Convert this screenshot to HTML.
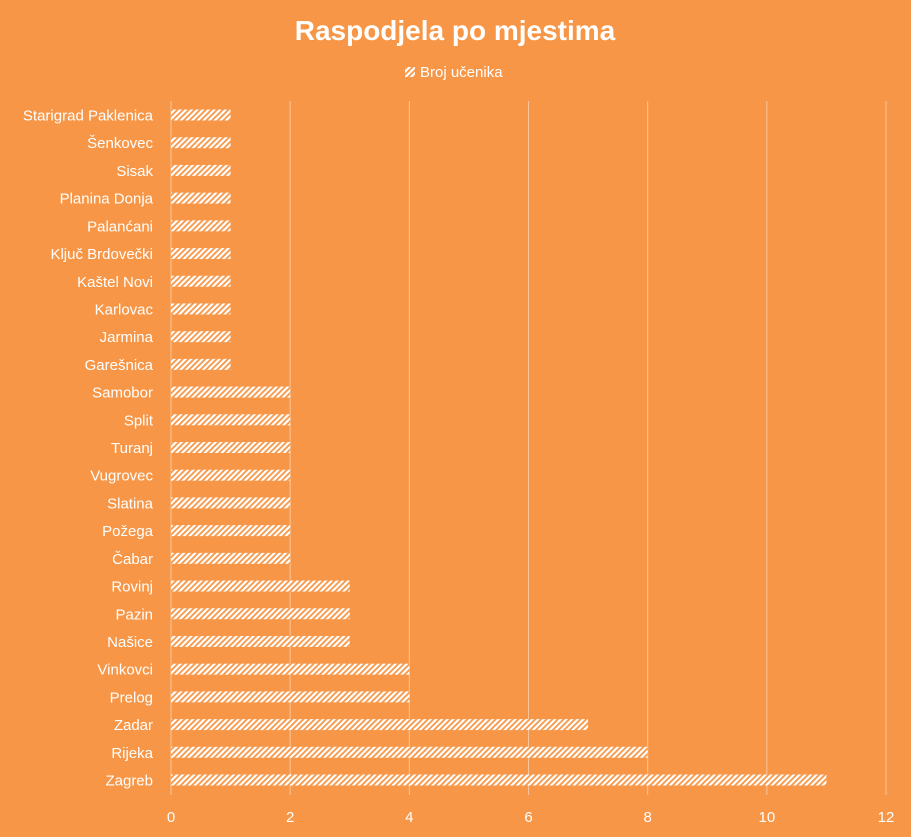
<!DOCTYPE html>
<html><head><meta charset="utf-8"><style>
body{margin:0;background:#F79646;}
svg{display:block;font-family:"Liberation Sans",sans-serif;}
</style></head><body>
<svg width="911" height="837">
<defs><pattern id="hatch" patternUnits="userSpaceOnUse" width="4" height="4" patternTransform="rotate(45)">
<rect width="4" height="4" fill="#F79646"/><rect width="2.2" height="4" fill="#fff"/></pattern></defs>
<rect width="911" height="837" fill="#F79646"/>
<text x="455" y="40" text-anchor="middle" font-size="28" font-weight="bold" fill="#fff">Raspodjela po mjestima</text>
<g>
<rect x="405" y="67" width="10" height="10" fill="url(#hatch)"/>
<text x="420" y="77" font-size="15" fill="#fff">Broj učenika</text>
</g>
<g id="grid"></g><g id="bars"></g><g id="labels"></g><g id="ticks"></g>
</svg>
<script>
const categories=["Starigrad Paklenica","Šenkovec","Sisak","Planina Donja","Palanćani","Ključ Brdovečki","Kaštel Novi","Karlovac","Jarmina","Garešnica","Samobor","Split","Turanj","Vugrovec","Slatina","Požega","Čabar","Rovinj","Pazin","Našice","Vinkovci","Prelog","Zadar","Rijeka","Zagreb"];
const values=[1,1,1,1,1,1,1,1,1,1,2,2,2,2,2,2,2,3,3,3,4,4,7,8,11];
const ticks=[0,2,4,6,8,10,12];
const NS="http://www.w3.org/2000/svg";
const x=v=>171+v*(886-171)/12;
const y=i=>115+i*(780-115)/(categories.length-1);
function mk(t,a,p){const e=document.createElementNS(NS,t);for(const k in a)e.setAttribute(k,a[k]);document.getElementById(p).appendChild(e);return e;}
ticks.forEach(t=>{
 const l=mk('line',{x1:x(t),x2:x(t),y1:101,y2:795,stroke:'#FAC59A','stroke-width':1},'grid');
 
 
 const tx=mk('text',{x:x(t),y:822,'text-anchor':'middle','font-size':15,fill:'#fff'},'ticks');
 tx.textContent=t;
 
 
});
categories.forEach((c,i)=>{
 const r=mk('rect',{x:x(0),y:y(i)-5.5,width:x(values[i])-x(0),height:11,fill:'url(#hatch)'},'bars');
 
 
 const t=mk('text',{x:153,y:y(i)+5.5,'text-anchor':'end','font-size':15,fill:'#fff'},'labels');
 t.textContent=c;
 
 
});
</script>
</body></html>
